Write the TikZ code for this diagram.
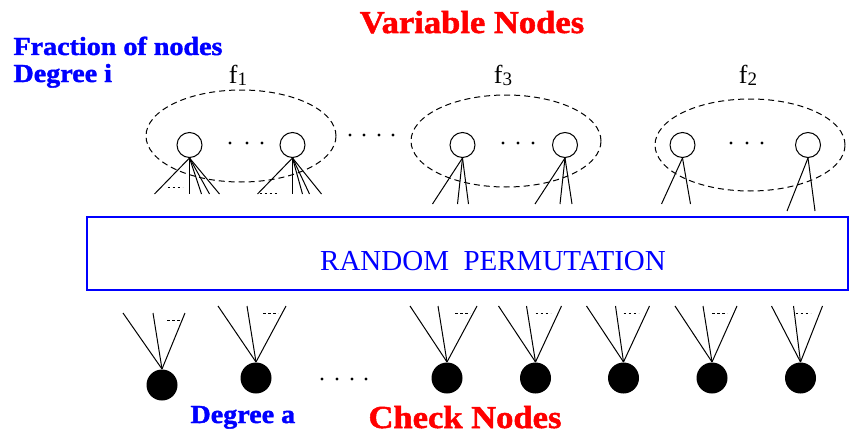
\documentclass[tikz,border=0pt]{standalone}
\usepackage{fontspec}
\setmainfont{Liberation Serif}
\newfontfamily\headfont[FakeStretch=1.08,FakeBold=1.6]{Liberation Serif}
\usetikzlibrary{positioning,shapes.geometric}
\newcommand{\flabel}[1]{f\raisebox{-2pt}{\fontsize{19}{19}\selectfont #1}}

\begin{document}
\begin{tikzpicture}[
    x=1pt, y=-1pt, line width=1pt,
    varnode/.style={draw, circle, minimum size=25pt, inner sep=0pt},
    chknode/.style={fill, circle, minimum size=31pt, inner sep=0pt},
    group/.style={draw, ellipse, dash pattern=on 6pt off 4pt, minimum width=190pt, minimum height=92pt, inner sep=0pt},
    perm/.style={draw=blue, line width=1.5pt, minimum width=761pt, minimum height=73pt, inner sep=0pt},
    permtext/.style={text=blue, font=\fontsize{29}{30}\selectfont, anchor=base, inner sep=0pt},
    head/.style={text=red, font=\headfont\bfseries\fontsize{32}{34}\selectfont, anchor=base, inner sep=0pt},
    note/.style={text=blue, font=\headfont\bfseries\fontsize{26}{28}\selectfont, anchor=base west, inner sep=0pt},
    flab/.style={font=\fontsize{26}{28}\selectfont, anchor=base, inner sep=0pt},
    gap/.style={dash pattern=on 2.5pt off 2.5pt}
]
\useasboundingbox (0,0) rectangle (850,436);

% titles
\node[head] (vartitle) at (472,33) {Variable Nodes};
\node[head] (chktitle) at (465,428) {Check Nodes};
\node[note] (fraction) at (13,55) {Fraction of nodes};
\node[note] (degi) at (13,82) {Degree i};
\node[note] (dega) at (190,423) {Degree a};

% groups of variable nodes
\node[group] (g1) at (241,136) {};
\node[group] (g3) at (506,141) {};
\node[group] (g2) at (750,145) {};
\node[flab] (f1) at (238,83) {\flabel{1}};
\node[flab] (f3) at (503,83) {\flabel{3}};
\node[flab] (f2) at (748,83) {\flabel{2}};

% variable nodes
\node[varnode] (v1) at (189.5,145) {};
\node[varnode] (v2) at (292.5,145) {};
\node[varnode] (v3) at (462.5,145) {};
\node[varnode] (v4) at (565,145) {};
\node[varnode] (v5) at (682.5,145) {};
\node[varnode] (v6) at (808,145) {};
\foreach \n/\dy/\ends in {v1/36/{-35,0,12,20,30}, v2/36/{-35,0,10,17,29},
    v3/46/{-30,-5,6}, v4/46/{-30,-5,7}, v5/46/{-21,8}, v6/53/{-21,7}}
  \foreach \dx in \ends
    \draw (\n.south) -- +(\dx,\dy);
\draw[gap] ([shift={(-22,29.5)}]v1.south) -- +(15,0);
\draw[gap] ([shift={(-33,35.5)}]v2.south) -- +(17,0);

% dots
\foreach \x in {230,247,262, 503,518,533, 731,747,762}
  \fill (\x,143) circle (1.7);
\foreach \x in {350,364,379,393}
  \fill (\x,135) circle (1.7);
\foreach \x in {322,337,352,366}
  \fill (\x,379) circle (1.7);

% permutation
\node[perm] (box) at (467.5,253.5) {};
\node[permtext] (permlabel) at (493,270) {RANDOM\ \ PERMUTATION};

% check nodes
\node[chknode] (c1) at (162,385) {};
\node[chknode] (c2) at (256,378) {};
\node[chknode] (c3) at (447,378) {};
\node[chknode] (c4) at (535.5,378) {};
\node[chknode] (c5) at (623.5,378) {};
\node[chknode] (c6) at (712,378) {};
\node[chknode] (c7) at (800.5,378) {};
\foreach \n/\a/\b/\c/\d in {c1/-39/-9/23/5, c2/-38/-9/30/7, c3/-37/-9/30/8,
    c4/-37/-9/26/0, c5/-37/-8/26/0, c6/-37/-9/25/0, c7/-29/-7/22/-5} {
  \draw (\n.north) -- +(\a,-56);
  \draw (\n.north) -- +(\b,-56);
  \draw (\n.north) -- +(\c,-56);
  \draw[gap] ([shift={(\d,-49)}]\n.north) -- +(15,0);
}
\end{tikzpicture}
\end{document}
